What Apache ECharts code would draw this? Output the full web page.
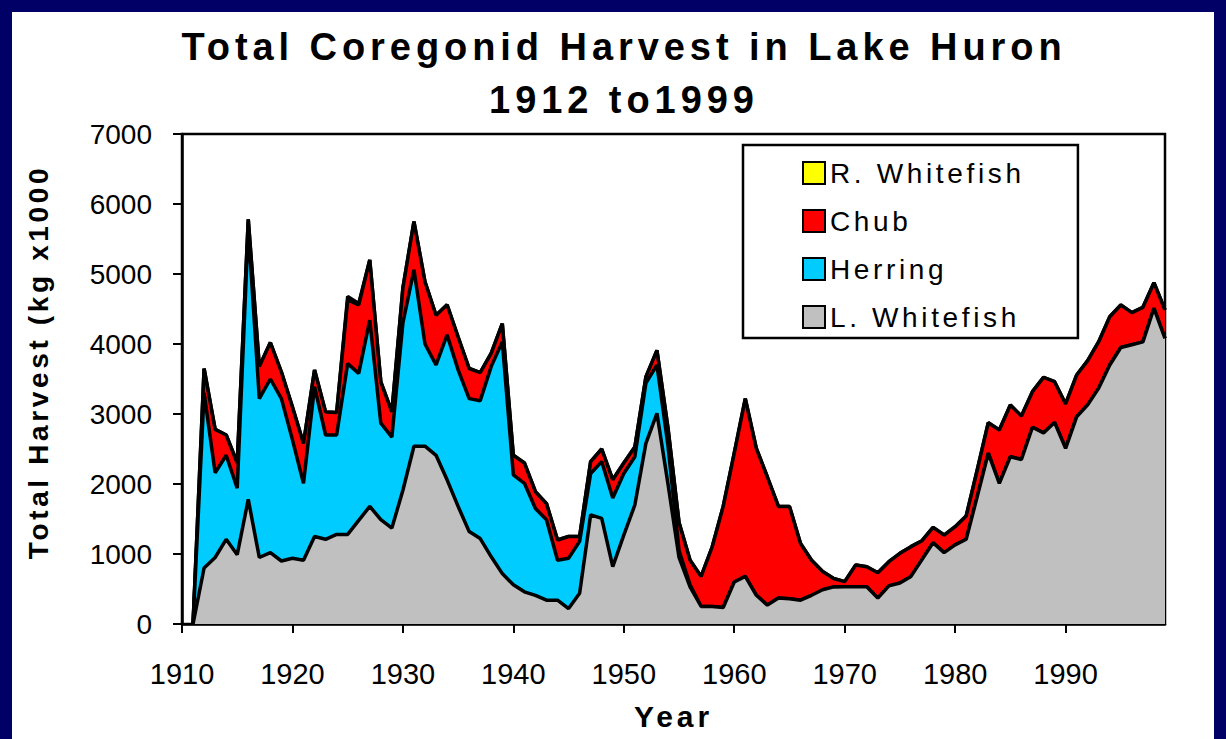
<!DOCTYPE html>
<html>
<head>
<meta charset="utf-8">
<script src="https://cdn.jsdelivr.net/npm/echarts@6/dist/echarts.min.js"></script>
<style>
    body { margin: 0; background: #000066; }
    #chart {
        position: absolute; left: 12px; top: 12px;
        width: 1202px; height: 727px; background: #fff;
    }
    /* the slide text is spaced out a bit, tick labels are not */
    #chart text[style*="Helvetica"] { letter-spacing: 0.13em; }
</style>
</head>
<body>
<div id="chart"></div>
<script>
// categories 1910..1999, harvest in kg x1000 (nothing recorded for 1910)
var years = [];
for (var y = 1910; y <= 1999; y++) years.push(String(y));

var lWhitefish = [
    null, 0, 800, 950, 1210, 990, 1780, 950, 1020, 900, 940,
    910, 1250, 1210, 1280, 1280, 1480, 1680, 1490, 1370, 1910,
    2540, 2540, 2410, 2060, 1680, 1320, 1220, 960, 720, 560,
    460, 410, 340, 340, 220, 440, 1560, 1510, 820, 1270,
    1700, 2580, 3010, 2000, 950, 530, 250, 250, 235, 600,
    680, 410, 270, 370, 360, 340, 410, 490, 530, 533,
    533, 533, 370, 545, 585, 680, 920, 1160, 1020, 1130,
    1210, 1820, 2440, 2010, 2390, 2350, 2810, 2730, 2880, 2510,
    2960, 3130, 3370, 3700, 3950, 3990, 4030, 4510, 4080
];
var herring = [
    null, 0, 2500, 1210, 1200, 950, 3870, 2270, 2480, 2320, 1690,
    1100, 2140, 1490, 1420, 2440, 2100, 2660, 1380, 1300, 2390,
    2520, 1460, 1290, 2070, 1950, 1900, 1970, 2720, 3310, 1570,
    1550, 1240, 1150, 570, 720, 740, 590, 810, 980, 880,
    690, 860, 690, 550, 100, 30, 0, 0, 0, 0,
    0, 0, 0, 0, 0, 0, 0, 0, 0, 0,
    0, 0, 0, 0, 0, 0, 0, 0, 0, 0,
    0, 0, 0, 0, 0, 0, 0, 0, 0, 0,
    0, 0, 0, 0, 0, 0, 0, 0, 0
];
var chub = [
    null, 0, 350, 620, 290, 360, 130, 460, 520, 380, 470,
    570, 240, 330, 320, 910, 980, 860, 590, 360, 500,
    690, 890, 710, 430, 470, 430, 400, 190, 260, 280,
    290, 240, 230, 290, 310, 70, 170, 180, 260, 150,
    140, 90, 210, 250, 400, 350, 430, 850, 1445, 1840,
    2540, 2100, 1830, 1310, 1320, 810, 500, 260, 120, 72,
    310, 286, 363, 345, 425, 425, 270, 221, 251, 260,
    333, 380, 436, 761, 739, 621, 509, 794, 582, 633,
    597, 632, 663, 690, 607, 458, 494, 366, 406
];
var rWhitefish = [
    null, 0, 0, 0, 0, 0, 0, 0, 0, 0, 0,
    0, 0, 0, 0, 50, 20, 0, 0, 0, 0,
    0, 0, 0, 0, 0, 0, 0, 0, 0, 0,
    0, 0, 0, 0, 0, 0, 0, 0, 0, 0,
    0, 0, 0, 0, 0, 0, 0, 0, 0, 0,
    0, 0, 0, 0, 0, 0, 0, 0, 0, 0,
    0, 0, 0, 0, 0, 0, 0, 0, 0, 0,
    0, 0, 0, 0, 0, 0, 0, 0, 0, 0,
    0, 0, 0, 0, 0, 0, 0, 0, 0
];

var yTicks = [0, 1000, 2000, 3000, 4000, 5000, 6000, 7000];

var spaced = "Liberation Sans, Helvetica";
var plain = "Liberation Sans";

function everyDecade(index, value) {
    return Number(value) % 10 === 0;
}

function areaSeries(name, data, fill, z) {
    return {
        name: name,
        type: "line",
        stack: "total",
        symbol: "none",
        z: z,
        color: fill,
        lineStyle: { color: "#000", width: 3.5 },
        areaStyle: { color: fill, opacity: 1 },
        data: data
    };
}

var myChart = echarts.init(document.getElementById("chart"), null, { renderer: "svg" });

var options = {
    animation: false,
    title: {
        text: "Total Coregonid Harvest in Lake Huron\n1912 to1999",
        left: 612,
        top: 8,
        padding: 0,
        textAlign: "center",
        textStyle: {
            fontFamily: spaced, fontSize: 38, fontWeight: "bold",
            color: "#000", lineHeight: 53
        }
    },
    legend: {
        orient: "vertical",
        left: 731,
        top: 133,
        padding: [14, 97, 7, 59],
        itemGap: 20,
        itemWidth: 22,
        itemHeight: 22,
        icon: "rect",
        borderColor: "#000",
        borderWidth: 2.5,
        backgroundColor: "#fff",
        itemStyle: { borderColor: "#000", borderWidth: 2 },
        textStyle: { fontFamily: spaced, fontSize: 28, lineHeight: 28, color: "#000" },
        data: ["R. Whitefish", "Chub", "Herring", "L. Whitefish"]
    },
    grid: {
        left: 170, top: 122, right: 49, bottom: 115,
        show: true, borderColor: "#000", borderWidth: 2.5,
        outerBoundsMode: "none"
    },
    graphic: [{
        type: "text",
        x: 26, y: 350,
        rotation: Math.PI / 2,
        style: {
            text: "Total Harvest (kg x1000",
            fontFamily: spaced, fontSize: 28, fontWeight: "bold",
            fill: "#000", align: "center", verticalAlign: "middle"
        }
    }],
    xAxis: {
        type: "category",
        boundaryGap: false,
        data: years,
        name: "Year",
        nameLocation: "middle",
        nameGap: 77,
        nameTextStyle: { fontFamily: spaced, fontSize: 30, fontWeight: "bold", color: "#000" },
        axisLine: { lineStyle: { color: "#000", width: 2.5 } },
        axisTick: { interval: everyDecade, length: 9, lineStyle: { color: "#000", width: 2 } },
        axisLabel: {
            interval: everyDecade, margin: 35,
            fontFamily: plain, fontSize: 29, color: "#000"
        },
        splitLine: { show: false }
    },
    yAxis: {
        type: "value",
        min: yTicks[0],
        max: yTicks[yTicks.length - 1],
        interval: 1000,
        axisLine: { show: true, lineStyle: { color: "#000", width: 2.5 } },
        axisTick: { show: true, length: 9, lineStyle: { color: "#000", width: 2 } },
        axisLabel: {
            margin: 30, fontFamily: plain, fontSize: 28, color: "#000",
            formatter: function (v) { return String(v); }
        },
        splitLine: { show: false }
    },
    // lower layers get the higher z so their outlines stay on top
    series: [
        areaSeries("L. Whitefish", lWhitefish, "#c0c0c0", 5),
        areaSeries("Herring", herring, "#00ccff", 4),
        areaSeries("Chub", chub, "#ff0000", 3),
        areaSeries("R. Whitefish", rWhitefish, "#ffff00", 2)
    ]
};

myChart.setOption(options);
</script>
</body>
</html>
